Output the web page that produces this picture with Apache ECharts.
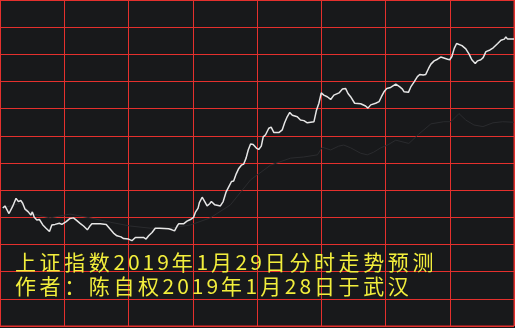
<!DOCTYPE html>
<html>
<head>
<meta charset="utf-8">
<script src="https://cdn.jsdelivr.net/npm/echarts@6/dist/echarts.min.js"></script>
<style>
html,body{margin:0;padding:0;background:#18191b;}
#chart{width:515px;height:328px;}
</style>
</head>
<body>
<div id="chart"></div>
<script>
// Minutes since open (0-240) and forecast index values
const priceMinutes = [1.3,2.3,4.2,5.9,7.5,8.6,9.7,10.6,11.7,13.2,14.4,15.1,16.0,17.2,18.4,20.0,21.5,23.1,24.2,25.7,27.7,28.9,30.9,32.7,34.3,35.9,37.4,39.0,40.8,41.8,42.9,46.8,49.6,51.1,53.0,54.6,56.5,57.7,60.0,61.6,63.2,67.0,68.2,69.4,71.0,72.5,74.5,78.7,80.3,81.5,82.7,83.4,85.7,87.3,88.9,90.4,91.2,92.5,93.1,94.4,95.6,96.7,97.9,98.7,100.3,102.9,104.2,105.6,106.8,108.1,109.1,110.3,111.5,112.7,113.8,114.9,115.9,117.0,118.2,119.8,120.8,122.0,122.9,124.0,125.5,126.6,127.9,130.2,131.8,132.9,134.1,135.3,136.5,138.8,140.3,141.9,143.5,146.6,147.7,148.9,150.0,151.2,152.8,154.4,155.9,158.3,159.9,161.4,162.5,163.7,165.6,168.4,170.7,171.8,173.1,175.4,177.0,178.1,179.3,180.6,182.4,184.8,186.7,187.9,188.7,190.7,191.8,193.3,194.9,196.0,197.6,198.8,200.1,201.2,202.7,204.3,205.8,206.6,209.0,210.0,211.0,212.1,213.2,214.1,215.7,217.5,219.1,220.3,221.9,223.0,224.5,225.6,226.9,228.8,230.3,232.4,233.9,235.5,236.2,237.0,239.4,240];
const priceValues = [2581.7,2582.1,2580.7,2582.0,2583.5,2582.9,2583.1,2582.6,2581.5,2581.0,2580.4,2581.0,2580.0,2579.5,2579.6,2578.6,2578.0,2577.4,2578.6,2578.7,2578.9,2578.7,2579.2,2579.8,2579.9,2579.4,2578.9,2578.4,2577.7,2578.3,2578.8,2578.8,2578.7,2578.0,2577.1,2576.6,2576.4,2576.1,2576.0,2575.7,2576.3,2576.3,2576.0,2576.6,2577.2,2578.0,2578.0,2577.9,2577.7,2577.5,2578.4,2578.8,2578.8,2579.3,2579.6,2580.0,2580.9,2581.7,2582.7,2583.7,2582.9,2582.1,2582.5,2582.9,2582.3,2582.1,2582.9,2584.7,2585.6,2586.6,2586.7,2588.0,2589.0,2589.6,2589.8,2590.9,2592.4,2593.5,2593.4,2592.7,2592.5,2593.1,2594.8,2595.2,2596.4,2596.6,2595.6,2595.6,2596.1,2597.4,2598.5,2599.3,2598.8,2598.5,2597.9,2597.8,2597.4,2597.6,2599.6,2601.0,2602.9,2602.5,2602.2,2601.7,2602.5,2602.9,2603.6,2603.7,2602.8,2602.2,2601.0,2600.9,2600.5,2600.1,2600.7,2601.0,2601.3,2602.2,2603.1,2603.7,2603.9,2604.5,2604.0,2603.6,2603.1,2603.0,2604.0,2604.9,2605.9,2606.3,2606.2,2606.3,2607.4,2608.2,2608.8,2609.1,2609.5,2609.3,2609.1,2609.0,2609.6,2611.1,2612.0,2612.1,2611.6,2611.0,2610.0,2609.0,2608.3,2608.8,2609.0,2609.4,2610.5,2610.8,2611.2,2612.0,2612.6,2612.8,2613.2,2612.8,2612.8,2612.8];
// Average price line
const avgMinutes = [1.3,9.4,15.4,23.4,32.7,42.1,51.5,60.8,70.2,79.5,88.9,98.2,107.6,117.0,126.3,135.7,141.7,148.2,150.5,154.4,158.1,160.5,163.7,168.4,171.5,174.5,177.8,180.9,184.8,190.9,195.5,201.2,207.2,210.5,214.3,217.5,221.3,225.5,230.2,234.8,240];
const avgValues = [2581.7,2582.6,2580.6,2579.9,2580.6,2579.9,2579.1,2578.4,2578.0,2578.0,2578.6,2579.9,2582.3,2586.9,2589.6,2590.9,2591.1,2591.5,2592.9,2592.4,2593.1,2593.3,2592.8,2591.8,2591.5,2592.0,2592.8,2593.3,2594.2,2593.6,2595.3,2597.2,2597.6,2597.6,2599.1,2597.9,2597.0,2596.7,2597.4,2597.6,2597.5];
const titleLines = ['上证指数2019年1月29日分时走势预测', '作者：陈自权2019年1月28日于武汉'];

const yMin = 2560, yMax = 2620, yStep = 5;
const xMin = 0, xMax = 240, xStep = 30;

const gridRed = '#e4302d';
const textYellow = '#f2ee3c';
const font = '"Noto Sans CJK SC", sans-serif';

function toRich(s) {
  return s.split('').map(c => (/[0-9]/.test(c) ? '{d|' + c + '}' : '{k|' + c + '}')).join('');
}
const richStyles = {
  k: { width: 24.6, fontSize: 21, fontFamily: font, fill: textYellow, color: textYellow },
  d: { width: 14.6, fontSize: 21, fontFamily: font, fill: textYellow, color: textYellow }
};

const chart = echarts.init(document.getElementById('chart'), null, { renderer: 'canvas' });
chart.setOption({
  backgroundColor: '#18191b',
  animation: false,
  grid: { left: 0, right: 1, top: 0, bottom: 2, show: true, borderColor: gridRed, borderWidth: 1, backgroundColor: 'transparent' },
  xAxis: {
    type: 'value', min: xMin, max: xMax, interval: xStep,
    axisLine: { show: false }, axisTick: { show: false }, axisLabel: { show: false },
    splitLine: { show: true, lineStyle: { color: gridRed, width: 1 } }
  },
  yAxis: {
    type: 'value', min: yMin, max: yMax, interval: yStep,
    axisLine: { show: false }, axisTick: { show: false }, axisLabel: { show: false },
    splitLine: { show: true, lineStyle: { color: gridRed, width: 1 } }
  },
  graphic: titleLines.map((t, i) => ({
    type: 'text',
    left: 15,
    top: 252 + i * 23.5,
    z: 100,
    style: { text: toRich(t), rich: richStyles, fill: textYellow, font: '21px ' + font }
  })),
  series: [
    {
      type: 'line', name: 'avg', showSymbol: false, silent: true, z: 2,
      data: avgMinutes.map((m, i) => [m, avgValues[i]]),
      lineStyle: { color: '#2a2b2e', width: 1 }
    },
    {
      type: 'line', name: 'price', showSymbol: false, silent: true, z: 3,
      data: priceMinutes.map((m, i) => [m, priceValues[i]]),
      lineStyle: { color: '#e6e6e6', width: 1.5 }
    }
  ]
});
</script>
</body>
</html>
